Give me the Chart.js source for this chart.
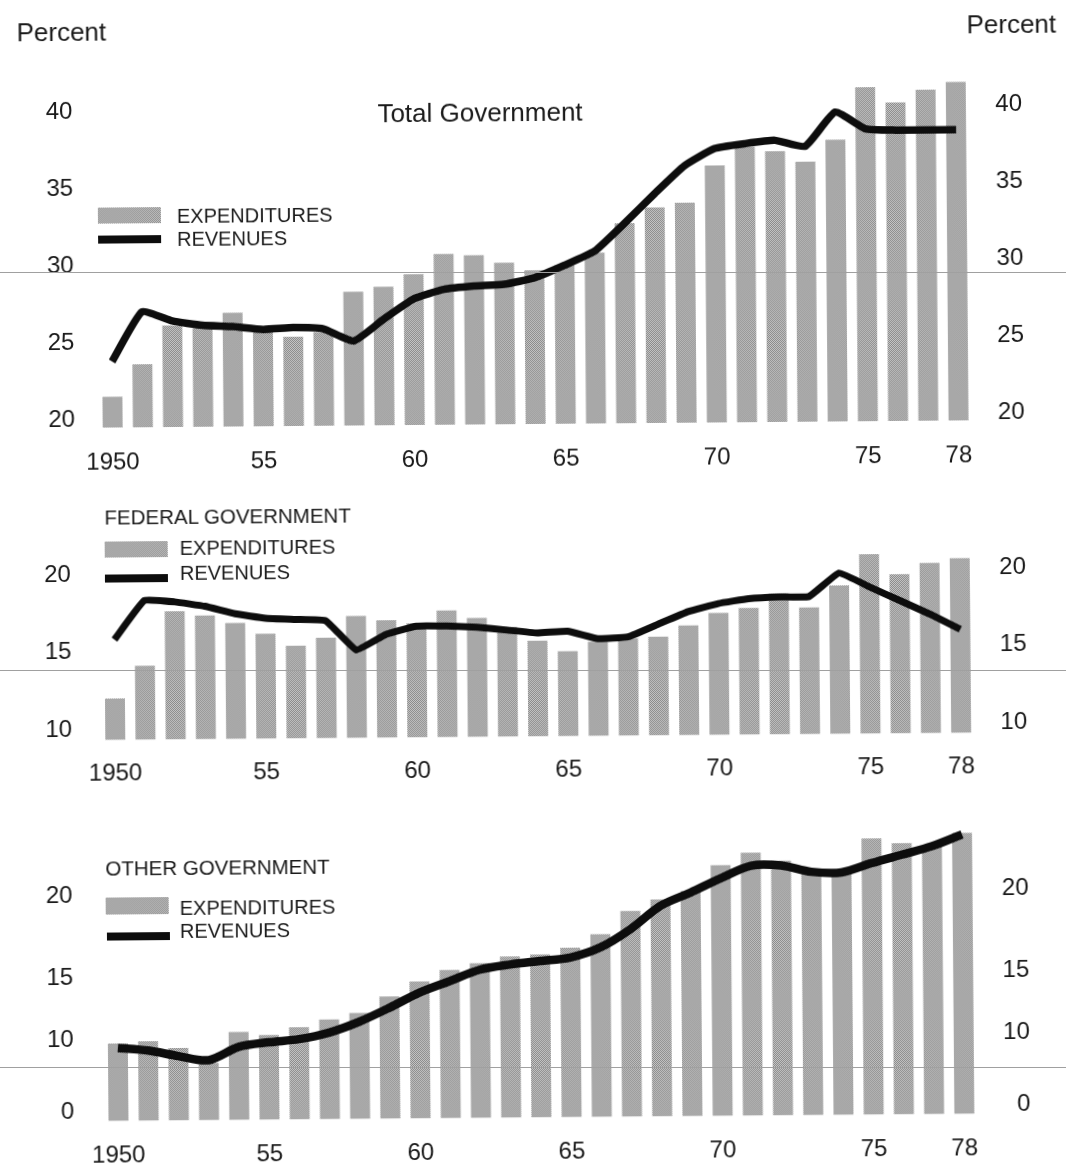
<!DOCTYPE html>
<html>
<head>
<meta charset="utf-8">
<script src="https://cdn.jsdelivr.net/npm/chart.js@4.4.1/dist/chart.umd.min.js"></script>
<style>
html,body{margin:0;padding:0;background:#fff;}
body{width:1066px;height:1167px;overflow:hidden;position:relative;font-family:"Liberation Sans",Arial,Helvetica,sans-serif;color:#1a1a1a;}
#page{position:absolute;left:0;top:0;width:1066px;height:1167px;transform:rotate(-0.48deg);transform-origin:533px 583px;}
canvas.cv{position:absolute;left:0;}
.t{position:absolute;white-space:nowrap;line-height:1;transform:translateY(-50%);}
.tc{transform:translate(-50%,-50%);}
.sw{position:absolute;background:repeating-conic-gradient(#8a8a8a 0 25%,#c6c6c6 0 50%) 0 0/2px 2px;}
.ln{position:absolute;background:#0d0d0d;}
.rule{position:absolute;left:0;width:1066px;height:1px;background:#a0a0a0;z-index:5;}
</style>
</head>
<body>
<div id="page">
  <canvas id="c1" class="cv" width="1066" height="480" style="top:0px"></canvas>
  <canvas id="c2" class="cv" width="1066" height="310" style="top:490px"></canvas>
  <canvas id="c3" class="cv" width="1066" height="392" style="top:775px"></canvas>

  <div class="t tc" style="left:66px;top:28px;font-size:26px;">Percent</div>
  <div class="t tc" style="left:1016px;top:28px;font-size:26px;">Percent</div>
  <div class="t tc" style="left:484px;top:112px;font-size:26px;">Total Government</div>

  <div class="sw" style="left:101px;top:204px;width:63px;height:16px;"></div>
  <div class="t" style="left:180px;top:213px;font-size:20px;">EXPENDITURES</div>
  <div class="ln" style="left:101px;top:232px;width:63px;height:8px;"></div>
  <div class="t" style="left:180px;top:236px;font-size:20px;">REVENUES</div>

  <div class="t" style="left:105px;top:514px;font-size:20.5px;">FEDERAL GOVERNMENT</div>
  <div class="sw" style="left:105px;top:538px;width:63px;height:16px;"></div>
  <div class="t" style="left:180px;top:545px;font-size:20px;">EXPENDITURES</div>
  <div class="ln" style="left:105px;top:571px;width:63px;height:8px;"></div>
  <div class="t" style="left:180px;top:570px;font-size:20px;">REVENUES</div>

  <div class="t" style="left:103px;top:865px;font-size:20.5px;">OTHER GOVERNMENT</div>
  <div class="sw" style="left:103px;top:894px;width:63px;height:17px;"></div>
  <div class="t" style="left:177px;top:905px;font-size:20px;">EXPENDITURES</div>
  <div class="ln" style="left:104px;top:929px;width:63px;height:8px;"></div>
  <div class="t" style="left:177px;top:928px;font-size:20px;">REVENUES</div>
</div>
<div class="rule" style="top:272px"></div>
<div class="rule" style="top:670px"></div>
<div class="rule" style="top:1067px"></div>

<script>
// ---------------- DATA ----------------
const YEARS = [1950,1951,1952,1953,1954,1955,1956,1957,1958,1959,1960,1961,1962,1963,1964,
               1965,1966,1967,1968,1969,1970,1971,1972,1973,1974,1975,1976,1977,1978];
const X_TICK_TEXT = ['1950','','','','','55','','','','','60','','','','','65','','','','','70','','','','','75','','','78'];

const TOTAL_EXP = [21.5,23.6,26.1,25.9,26.9,25.8,25.3,25.6,28.2,28.5,29.3,30.6,30.5,30.0,29.5,
                   29.8,30.6,32.5,33.5,33.8,36.2,37.4,37.1,36.4,37.8,41.2,40.2,41.0,41.5];
const TOTAL_REV = [23.8,27.0,26.4,26.1,26.0,25.8,25.9,25.8,25.0,26.4,27.7,28.3,28.5,28.6,29.0,
                   29.8,30.7,32.5,34.4,36.2,37.3,37.6,37.8,37.4,39.6,38.5,38.4,38.4,38.4];

const FED_EXP = [12.0,14.1,17.6,17.3,16.8,16.1,15.3,15.8,17.2,16.9,16.7,17.5,17.0,16.4,15.5,
                 14.8,15.4,15.6,15.7,16.4,17.2,17.5,18.4,17.5,18.9,20.9,19.6,20.3,20.6];
const FED_REV = [15.8,18.3,18.2,17.9,17.4,17.1,17.0,16.9,15.0,16.0,16.5,16.5,16.4,16.2,16.0,
                 16.1,15.6,15.7,16.5,17.3,17.8,18.1,18.2,18.2,19.7,18.8,17.9,17.0,16.0];

const OTHER_EXP = [9.5,9.8,8.8,6.7,10.55,10.3,10.9,11.5,12.0,13.3,14.5,15.3,15.7,16.1,16.2,
                   16.6,17.4,18.8,19.5,20.0,21.55,22.3,21.8,21.1,21.0,23.1,22.8,22.6,23.4];
const OTHER_REV = [8.9,8.5,7.7,7.1,8.9,9.5,9.9,10.45,11.3,12.4,13.6,14.5,15.3,15.6,15.8,
                   16.0,16.6,17.7,19.1,19.9,20.75,21.5,21.5,21.1,21.05,21.6,22.1,22.6,23.3];

const TOTAL_TICKS = [20,25,30,35,40];
const FED_TICKS = [10,15,20];
const OTHER_TICKS = [0,10,15,20];

// ---------------- BROKEN (piecewise) AXIS for the bottom panel ----------------
// value -> relative printed height; 0..10 is compressed (axis break)
const OTHER_AXIS_KNOTS = [[-1.19,-9.1],[0,0],[10,76.6],[15,142.5],[20,229.3],[24.5,307.4]];
function knotMap(v, k, a, b){
  let i = 0;
  while (i < k.length - 2 && v > k[i+1][a]) i++;
  const p = k[i], q = k[i+1];
  return p[b] + (v - p[a]) * (q[b] - p[b]) / (q[a] - p[a]);
}
class BrokenScale extends Chart.LinearScale {
  static id = 'broken';
  static defaults = {};
  getPixelForValue(value){
    const k = OTHER_AXIS_KNOTS, h0 = k[0][1], h1 = k[k.length-1][1];
    return this.getPixelForDecimal((knotMap(value,k,0,1) - h0) / (h1 - h0));
  }
  getValueForPixel(pixel){
    const k = OTHER_AXIS_KNOTS, h0 = k[0][1], h1 = k[k.length-1][1];
    const h = h0 + this.getDecimalForPixel(pixel) * (h1 - h0);
    return knotMap(h,k,1,0);
  }
}
Chart.register(BrokenScale);

// ---------------- STYLE ----------------
function barPattern(){
  const c = document.createElement('canvas'); c.width = 2; c.height = 2;
  const g = c.getContext('2d');
  g.fillStyle = '#c6c6c6'; g.fillRect(0,0,2,2);
  g.fillStyle = '#8a8a8a'; g.fillRect(0,0,1,1); g.fillRect(1,1,1,1);
  return g.createPattern(c,'repeat');
}
const PATTERN = barPattern();
const TICK_FONT = {family:'"Liberation Sans", Arial, sans-serif', size:24};
const TICK_COLOR = '#1a1a1a';

function makeChart(id, o){
  const yCommon = (pos) => ({
    type: o.yType, position: pos, min: o.min, max: o.max, bounds:'data',
    grid:{display:false, drawTicks:false}, border:{display:false},
    ticks:{font:TICK_FONT, color:TICK_COLOR, padding: pos==='left' ? o.leftPad : 0,
           crossAlign: pos==='left' ? 'near' : 'far', callback:v=>String(v)},
    afterBuildTicks: s => { s.ticks = o.ticks.map(v => ({value:v})); },
    afterFit: s => { s.width = pos==='left' ? 98.9 : 51; }
  });
  return new Chart(document.getElementById(id), {
    type:'bar',
    data:{
      labels: YEARS.map(String),
      datasets:[
        {type:'line', label:'REVENUES', data:o.rev, yAxisID:'y', order:0,
         borderColor:'#0d0d0d', borderWidth:o.lw, pointRadius:0, pointHoverRadius:0,
         tension:o.tension, borderJoinStyle:'round', borderCapStyle:'butt', fill:false},
        {type:'bar', label:'EXPENDITURES', data:o.exp, yAxisID:'y', order:1,
         backgroundColor:PATTERN, borderWidth:0, base:o.min,
         barPercentage:0.66, categoryPercentage:1}
      ]
    },
    options:{
      responsive:false, animation:false, devicePixelRatio:1,
      layout:{padding:{top:o.padTop, right:40, left:0, bottom:0}},
      plugins:{legend:{display:false}, tooltip:{enabled:false}, title:{display:false}},
      scales:{
        x:{grid:{display:false, drawTicks:false}, border:{display:false},
           ticks:{autoSkip:false, maxRotation:0, minRotation:0, padding:o.xPad,
                  font:TICK_FONT, color:TICK_COLOR, callback:(v,i)=>X_TICK_TEXT[i]},
           afterFit: s => { s.height = o.xH; }},
        y: yCommon('left'),
        y2: yCommon('right')
      }
    }
  });
}

makeChart('c1', {exp:TOTAL_EXP, rev:TOTAL_REV, ticks:TOTAL_TICKS, yType:'linear',
  min:19.51, max:42, padTop:77.7, xH:56, xPad:20.6, leftPad:22.5, lw:7.5, tension:0.15});
makeChart('c2', {exp:FED_EXP, rev:FED_REV, ticks:FED_TICKS, yType:'linear',
  min:9.32, max:22, padTop:50, xH:63.5, xPad:19.1, leftPad:28, lw:7, tension:0.1});
makeChart('c3', {exp:OTHER_EXP, rev:OTHER_REV, ticks:OTHER_TICKS, yType:'broken',
  min:-1.19, max:24.5, padTop:25.9, xH:49.6, xPad:20.2, leftPad:29, lw:8.5, tension:0.3});
</script>
</body>
</html>
